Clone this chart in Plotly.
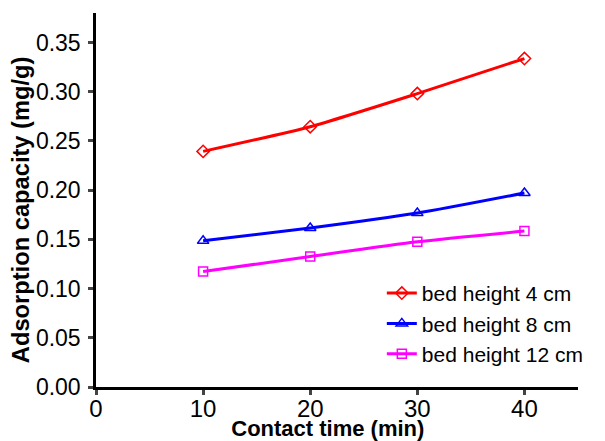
import plotly.graph_objects as go

time_min = [10, 20, 30, 40]
cap_4cm = [0.2394, 0.2645, 0.2981, 0.3337]
cap_8cm = [0.1485, 0.1615, 0.1767, 0.1971]
cap_12cm = [0.1173, 0.1326, 0.1475, 0.1584]
series_names = ["bed height 4 cm", "bed height 8 cm", "bed height 12 cm"]
x_ticks = [0, 10, 20, 30, 40]
y_ticks = [0.00, 0.05, 0.10, 0.15, 0.20, 0.25, 0.30, 0.35]

FONT = "Liberation Sans, Arial, sans-serif"
NB = "\u00a0"

fig = go.Figure()
styles = [
    ("#ff0000", "diamond-open", 9.5, cap_4cm),
    ("#0000ff", "triangle-up-open", 10, cap_8cm),
    ("#ff00ff", "square-open", 9, cap_12cm),
]
for name, (color, sym, sz, vals) in zip(series_names, styles):
    fig.add_trace(go.Scatter(
        x=time_min, y=vals, name=name, mode="lines+markers",
        line=dict(color=color, width=3, shape="spline", smoothing=0.6),
        marker=dict(symbol=sym, size=sz, color=color, line=dict(color=color, width=1.5)),
    ))

# page body has an 8px default margin, so the figure is offset by (8, 8)
fig.update_layout(
    width=597, height=433,
    margin=dict(l=88, r=27, t=5, b=54),
    paper_bgcolor="white", plot_bgcolor="white",
    font=dict(family=FONT, size=22, color="black"),
    showlegend=True,
    legend=dict(x=0.593, y=0.305, xanchor="left", yanchor="top",
                bgcolor="rgba(0,0,0,0)", font=dict(size=21), tracegroupgap=0,
                itemwidth=30),
    hovermode=False,
)
fig.update_xaxes(
    range=[0, 45], tickvals=x_ticks, ticks="outside", ticklen=5, tickwidth=2.5,
    showline=True, linecolor="black", linewidth=2.5, showgrid=False, zeroline=False,
    tickfont=dict(size=24), automargin=False, ticklabelstandoff=-7,
    title=dict(text="<b>Contact time (min)" + NB * 3 + "</b>", font=dict(size=22), standoff=10),
)
fig.update_yaxes(
    range=[0, 0.38], tickvals=y_ticks, tickformat=".2f", ticks="outside", ticklen=5, tickwidth=2.5,
    showline=True, linecolor="black", linewidth=2.5, showgrid=False, zeroline=False,
    tickfont=dict(size=23), automargin=False, ticklabelstandoff=3,
    title=dict(text="<b>Adsorption capacity (mg/g)" + NB * 3 + "</b>", font=dict(size=23.7), standoff=0),
)
fig.write_html("out.html")
